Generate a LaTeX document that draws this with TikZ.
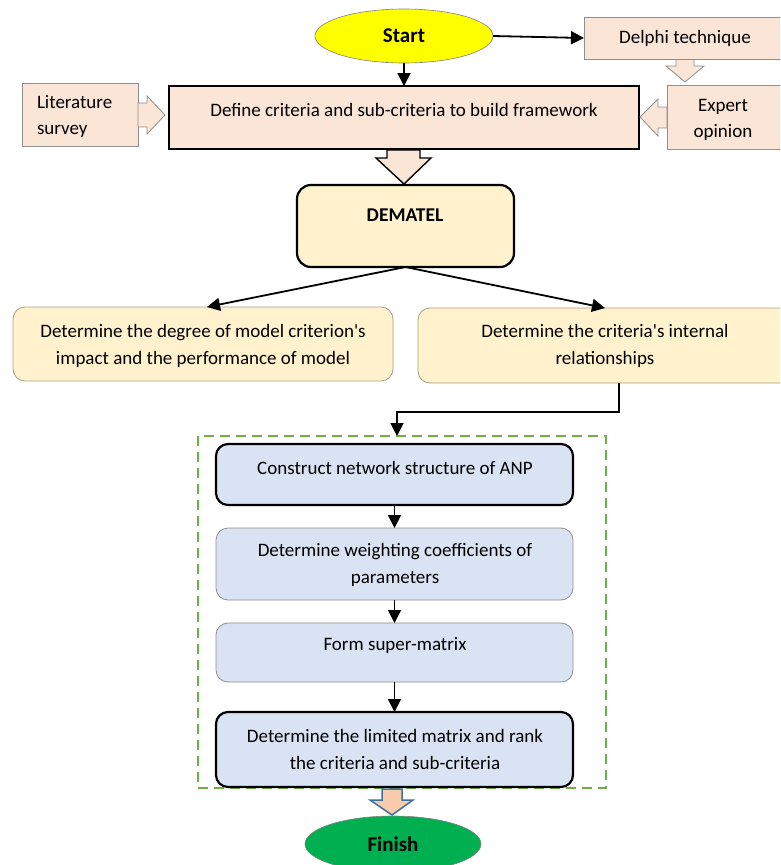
\documentclass[tikz,border=0pt]{standalone}
\usepackage{fontspec}
\setmainfont{Carlito}
\usetikzlibrary{arrows.meta,shapes.geometric}
\definecolor{peach}{HTML}{FBE5D6}
\definecolor{ylw}{HTML}{FFF2CC}
\definecolor{blu}{HTML}{DAE3F3}
\definecolor{grn}{HTML}{00B050}
\definecolor{dgrn}{HTML}{70AD47}
\definecolor{gborder}{HTML}{8F8F8F}
\definecolor{yborder}{HTML}{A89F86}
\definecolor{apeach}{HTML}{F8CBAD}
\definecolor{ablue}{HTML}{41719C}
\definecolor{startyel}{HTML}{FFFF00}
\begin{document}
\begin{tikzpicture}[x=1pt,y=-1pt,
  font=\fontsize{19}{26.5}\selectfont,
  every node/.style={inner sep=0pt, outer sep=0pt},
  pbox/.style={draw=gborder, fill=peach, line width=0.8pt, anchor=north west},
  thickbox/.style={draw=black, line width=2.2pt, anchor=north west},
  ybox/.style={draw=yborder, fill=ylw, line width=0.8pt, rounded corners=12pt, anchor=north west},
  bthin/.style={draw=gborder, fill=blu, line width=0.8pt, rounded corners=12pt, anchor=north west, minimum width=357pt},
  bthick/.style={draw=black, fill=blu, line width=2.2pt, rounded corners=12pt, anchor=north west, minimum width=357pt},
  txt/.style={align=center},
  arr/.style={draw=black, line width=1.8pt, -{Triangle[length=13pt,width=13pt]}},
  hollow/.style={draw=gborder, fill=peach, line width=0.8pt, line join=miter},
  term/.style={ellipse, draw=gray, line width=0.6pt, font=\fontsize{21}{24}\selectfont\bfseries}
]
\clip (0,0) rectangle (780,865);
\fill[white] (0,0) rectangle (780,865);

% top row
\node[term, fill=startyel, minimum width=178pt, minimum height=54pt] (start) at (404,36) {Start};
\node[pbox, minimum width=206pt, minimum height=42pt] (delphi) at (584,17) {};
\node[txt] (delphiT) at (685,38) {Delphi technique};
\node[pbox, minimum width=123pt, minimum height=64pt] (expert) at (667,85) {};
\node[txt] (expertT) at (723,120) {Expert\\opinion};
\node[pbox, minimum width=116pt, minimum height=63pt] (lit) at (22,83) {};
\node[align=left, anchor=west] (litT) at (37,116.5) {Literature\\survey};
\node[pbox, thickbox, fill=peach, minimum width=470pt, minimum height=63pt] (def) at (169,86) {};
\node[txt] (defT) at (404,110) {Define criteria and sub-criteria to build framework};

% hollow block arrows
\draw[hollow] (138,103) -- (147,103) -- (147,96) -- (165,115) -- (147,134) -- (147,127) -- (138,127) -- cycle;
\draw[hollow] (667,107) -- (658,107) -- (658,99) -- (640,117) -- (658,136) -- (658,128) -- (667,128) -- cycle;
\draw[hollow] (676,59.5) -- (676,66) -- (666,66) -- (685,82) -- (704,66) -- (694,66) -- (694,59.5) -- cycle;
\draw[hollow, draw=black, line width=1.4pt] (387,150) -- (387,158) -- (376,158) -- (404,184) -- (431,158) -- (420,158) -- (420,150) -- cycle;

\draw[arr] (start.south) -- (def.north -| start.south);
\draw[arr] (start.east) -- (delphi.west);

% DEMATEL
\node[thickbox, fill=ylw, rounded corners=14pt, minimum width=217pt, minimum height=82pt] (dem) at (297,185) {};
\node[txt, font=\fontsize{19.5}{24}\selectfont\bfseries] (demT) at (405,215) {DEMATEL};

\node[ybox, minimum width=380pt, minimum height=74pt] (left) at (13,307) {};
\node[txt] (leftT) at (203,346) {Determine the degree of model criterion\textquotesingle s\\impact and the performance of model};
\node[ybox, minimum width=380pt, minimum height=75pt] (right) at (418,308) {};
\node[txt] (rightT) at (605,346) {Determine the criteria\textquotesingle s internal\\relationships};

\draw[arr] (dem.south) -- ([xshift=194pt]left.north west);
\draw[arr] (dem.south) -- ([xshift=187pt]right.north west);

% ANP frame
\node[draw=dgrn, line width=2.2pt, dash pattern=on 10pt off 6pt, anchor=north west, minimum width=408pt, minimum height=352pt] (frame) at (198,436) {};

\node[bthick, minimum height=61pt] (b1) at (216,444) {};
\node[txt] (b1T) at (395,468) {Construct network structure of ANP};
\node[bthin, minimum height=72pt] (b2) at (216,528) {};
\node[txt] (b2T) at (395,565) {Determine weighting coefficients of\\parameters};
\node[bthin, minimum height=59pt] (b3) at (216,623) {};
\node[txt] (b3T) at (395,645) {Form super-matrix};
\node[bthick, minimum height=75pt] (b4) at (216,712) {};
\node[txt] (b4T) at (395,749.5) {Determine the limited matrix and rank\\the criteria and sub-criteria};

\coordinate (bend) at (397,412);
\draw[arr] ([xshift=201pt]right.south west) |- (bend) -- (bend |- frame.north);
\draw[arr] (b1.south) -- (b2.north);
\draw[arr] (b2.south) -- (b3.north);
\draw[arr] (b3.south) -- (b4.north);

% Finish
\draw[fill=apeach, draw=ablue, line width=1.5pt, line join=miter] (382,789) -- (382,800) -- (370,800) -- (392,815) -- (413,800) -- (402,800) -- (402,789) -- cycle;
\node[term, fill=grn, minimum width=176pt, minimum height=56pt] (finish) at (393,844) {Finish};
\end{tikzpicture}
\end{document}
